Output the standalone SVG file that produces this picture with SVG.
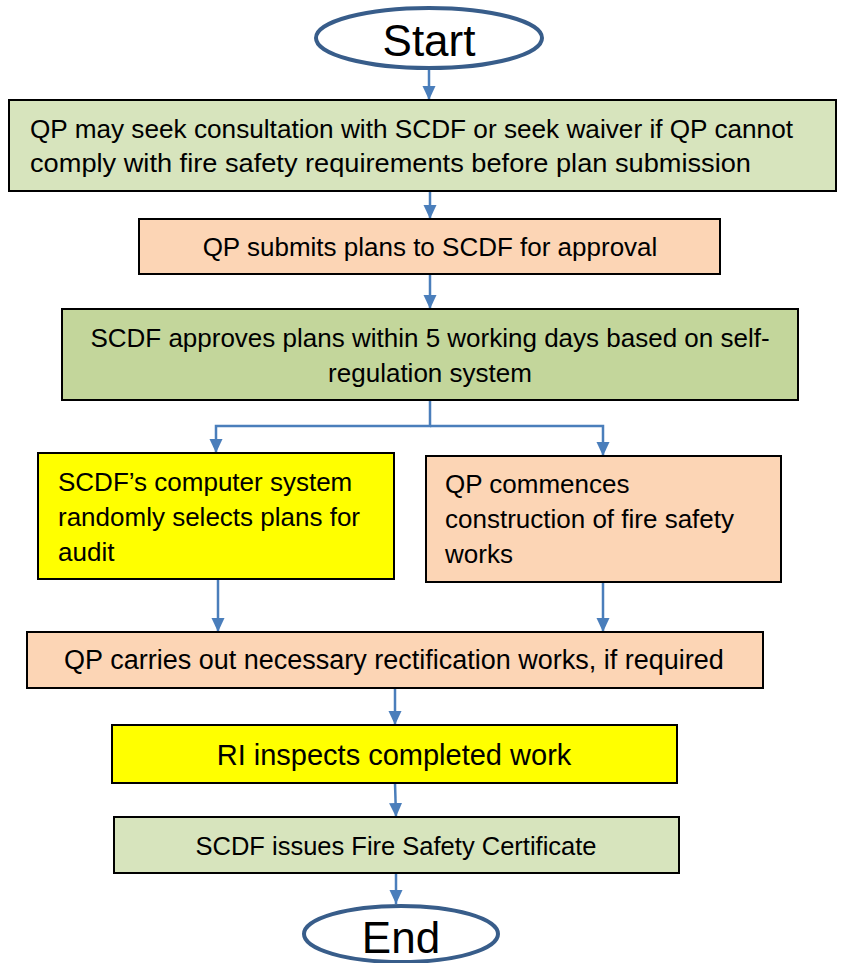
<svg xmlns="http://www.w3.org/2000/svg" width="846" height="963" viewBox="0 0 846 963">
<style>
.box{stroke:#000;stroke-width:2}
.t{font-family:"Liberation Sans",Arial,sans-serif;font-size:26px;fill:#000}
.c{text-anchor:middle}
.big{font-family:"Liberation Sans",Arial,sans-serif;font-size:44px;fill:#000;text-anchor:middle}
.term{fill:#fff;stroke:#385d8a;stroke-width:4}
.conn{fill:none;stroke:#4a7ebb;stroke-width:2.5}
</style>
<defs>
<marker id="ah" markerUnits="userSpaceOnUse" markerWidth="14" markerHeight="14" refX="14" refY="7" orient="auto">
<path d="M0,0.5 L14,7 L0,13.5 z" fill="#4a7ebb"/>
</marker>
</defs>
<rect width="846" height="963" fill="#fff"/>
<g id="connectors">
<line class="conn" x1="429" y1="68" x2="429" y2="100" marker-end="url(#ah)"/>
<line class="conn" x1="430" y1="191" x2="430" y2="219" marker-end="url(#ah)"/>
<line class="conn" x1="430" y1="274" x2="430" y2="309" marker-end="url(#ah)"/>
<polyline class="conn" points="430,400 430,426 216,426 216,453" marker-end="url(#ah)"/>
<polyline class="conn" points="430,426 603,426 603,456" marker-end="url(#ah)"/>
<line class="conn" x1="218" y1="579" x2="218" y2="632" marker-end="url(#ah)"/>
<line class="conn" x1="603" y1="582" x2="603" y2="632" marker-end="url(#ah)"/>
<line class="conn" x1="395" y1="688" x2="395" y2="725" marker-end="url(#ah)"/>
<line class="conn" x1="395" y1="783" x2="396" y2="817" marker-end="url(#ah)"/>
<line class="conn" x1="396" y1="873" x2="396" y2="904" marker-end="url(#ah)"/>
</g>
<g id="start">
<ellipse class="term" cx="429" cy="38" rx="113" ry="30"/>
<text class="big" x="429" y="56">Start</text>
</g>
<g id="consult">
<rect class="box" x="9" y="100" width="827" height="91" fill="#d7e4bd"/>
<text class="t" x="30" y="138" textLength="763" lengthAdjust="spacingAndGlyphs">QP may seek consultation with SCDF or seek waiver if QP cannot</text>
<text class="t" x="30" y="172" textLength="721" lengthAdjust="spacingAndGlyphs">comply with fire safety requirements before plan submission</text>
</g>
<g id="submit">
<rect class="box" x="139" y="219" width="581" height="55" fill="#fcd5b5"/>
<text class="t c" x="430" y="256">QP submits plans to SCDF for approval</text>
</g>
<g id="approve">
<rect class="box" x="62" y="309" width="736" height="91" fill="#c3d69b"/>
<text class="t c" x="430" y="347">SCDF approves plans within 5 working days based on self-</text>
<text class="t c" x="430" y="382">regulation system</text>
</g>
<g id="audit">
<rect class="box" x="38" y="453" width="356" height="126" fill="#ffff00"/>
<text class="t" x="58" y="491">SCDF’s computer system</text>
<text class="t" x="58" y="526">randomly selects plans for</text>
<text class="t" x="58" y="561">audit</text>
</g>
<g id="construct">
<rect class="box" x="426" y="456" width="355" height="126" fill="#fcd5b5"/>
<text class="t" x="445" y="493">QP commences</text>
<text class="t" x="445" y="528">construction of fire safety</text>
<text class="t" x="445" y="563">works</text>
</g>
<g id="rectify">
<rect class="box" x="27" y="632" width="736" height="56" fill="#fcd5b5"/>
<text class="t c" x="394" y="669" style="font-size:27px">QP carries out necessary rectification works, if required</text>
</g>
<g id="inspect">
<rect class="box" x="112" y="725" width="565" height="58" fill="#ffff00"/>
<text class="t c" x="394" y="765" style="font-size:29px">RI inspects completed work</text>
</g>
<g id="certificate">
<rect class="box" x="114" y="817" width="565" height="56" fill="#d7e4bd"/>
<text class="t c" x="396" y="855" style="font-size:25.5px">SCDF issues Fire Safety Certificate</text>
</g>
<g id="end">
<ellipse class="term" cx="401" cy="934" rx="97" ry="28"/>
<text class="big" x="401" y="953">End</text>
</g>
</svg>
